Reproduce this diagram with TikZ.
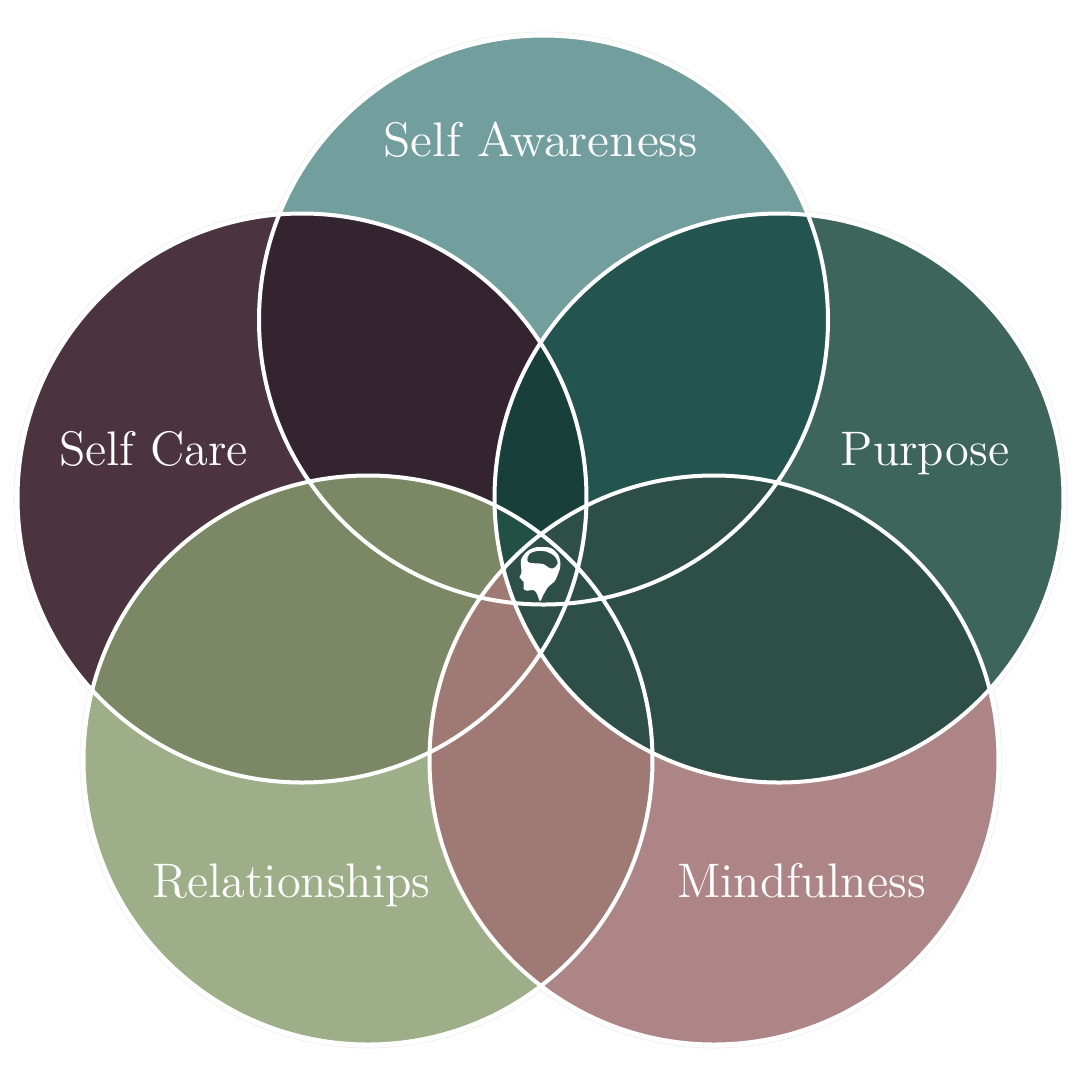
\documentclass[tikz,border=0pt]{standalone}
\usepackage{fontspec}
\usepackage{graphicx}
\definecolor{wTop}{HTML}{729E9D}
\definecolor{wCare}{HTML}{4B343F}
\definecolor{wPurp}{HTML}{3D655C}
\definecolor{wRel}{HTML}{9DAE88}
\definecolor{wMind}{HTML}{AE8587}
\definecolor{lapTC}{HTML}{34242F}
\definecolor{lapTP}{HTML}{235450}
\definecolor{lapTCP}{HTML}{193F3A}
\definecolor{lapCR}{HTML}{7C8865}
\definecolor{lapPM}{HTML}{2E4F47}
\definecolor{lapRM}{HTML}{9F7A75}
\definecolor{lapTCPR}{HTML}{235045}
\tikzset{
  lab/.style={text=white,anchor=base,font=\fontsize{13.8}{14}\selectfont\addfontfeature{LetterSpace=4}},
  ring/.style={draw=white,line width=0.4mm},
  halo/.style={draw=black!7,line width=0.06mm},
}
\newcommand{\rad}{284.5}
\newcommand{\clipat}[1]{\clip (#1) circle[radius=\rad];}
\newcommand{\lap}[2]{\begin{scope}#2\fill[#1] (0,0) rectangle (1080,1080);\end{scope}}
\begin{document}
\begin{tikzpicture}[x=0.1mm,y=-0.1mm]
\useasboundingbox (0,0) rectangle (1080,1080);
\fill[white] (0,0) rectangle (1080,1080);
\coordinate (top) at (543.5,320);
\coordinate (care) at (302,498);
\coordinate (purp) at (779,498);
\coordinate (rel) at (368,760);
\coordinate (mind) at (714,760);
\foreach \c in {top,care,purp,rel,mind} \draw[halo] (\c) circle[radius=288];
\foreach \c/\col in {top/wTop,care/wCare,purp/wPurp,rel/wRel,mind/wMind} \fill[\col] (\c) circle[radius=\rad];
\lap{lapTC}{\clipat{top}\clipat{care}}
\lap{lapTP}{\clipat{top}\clipat{purp}}
\lap{lapTCP}{\clipat{top}\clipat{care}\clipat{purp}}
\lap{lapCR}{\clipat{care}\clipat{rel}}
\lap{lapTP}{\clipat{purp}\clipat{rel}}
\lap{lapTCPR}{\clipat{top}\clipat{care}\clipat{purp}\clipat{rel}}
\lap{lapRM}{\clipat{rel}\clipat{mind}}
\lap{lapPM}{\clipat{purp}\clipat{mind}}
\foreach \c in {top,care,purp,rel,mind} \draw[ring] (\c) circle[radius=\rad];
\fill[white,even odd rule] plot[smooth cycle,tension=0.55] coordinates {(540,547) (550.7,548) (558.3,555) (560.5,565) (558.3,573.3) (554.3,581.7) (548.3,586.7) (543.3,595) (540,601) (536.7,593.3) (533.3,590) (526.7,590.7) (523.5,588.3) (523.5,581.7) (519.5,577.3) (521.5,572.7) (521,560) (526.7,551.7) (533.3,548)}
  plot[smooth cycle,tension=0.6] coordinates {(527.3,560) (529.3,554) (536.7,551) (546.7,551.7) (555,556.7) (557.7,563.3) (553.3,568.3) (548.3,567.3) (543.3,564) (535,563.3) (529.3,562.7)};
\node[lab] (awareness) at (540.5,156.5) {\scalebox{1.033}[1]{Self Awareness}};
\node[lab] (selfcare) at (153.5,465) {Self Care};
\node[lab] (purpose) at (925,465) {Purpose};
\node[lab] (relationships) at (291.5,897) {Relationships};
\node[lab] (mindfulness) at (801.5,897) {Mindfulness};
\end{tikzpicture}
\end{document}
